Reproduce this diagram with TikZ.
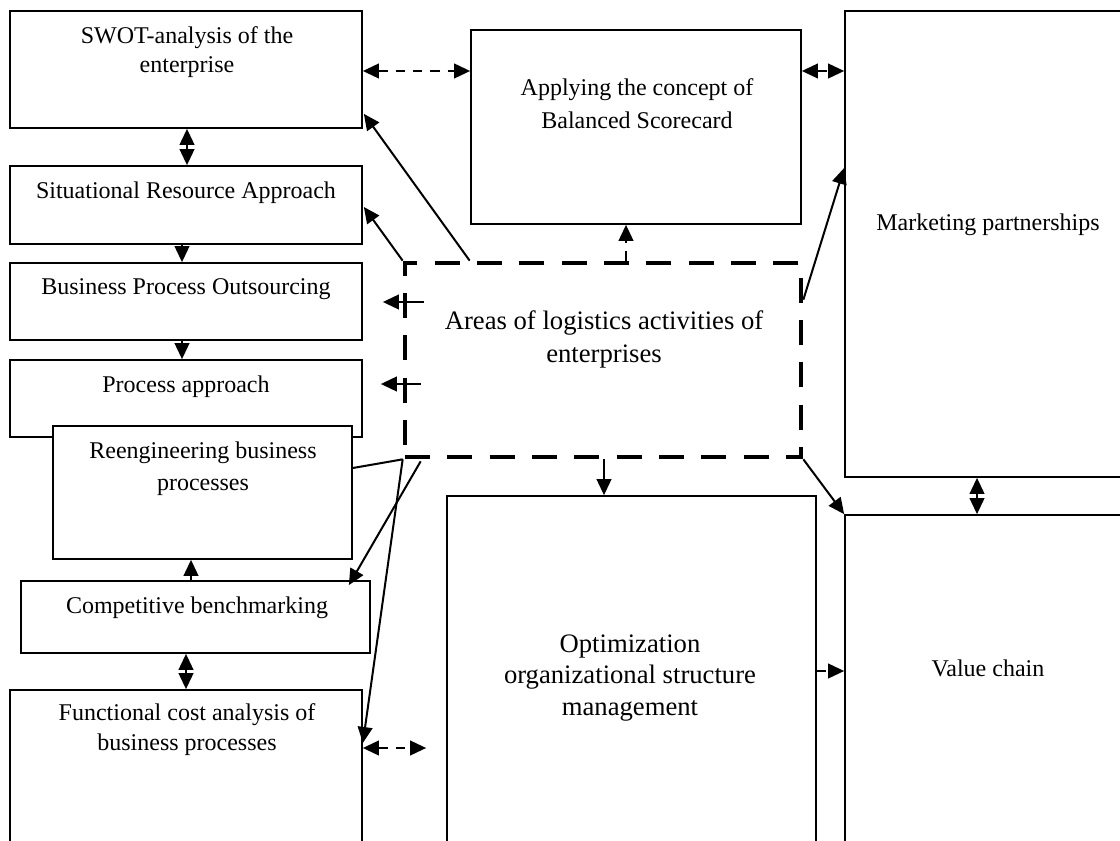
\documentclass[tikz,border=0pt]{standalone}
\usepackage{fontspec}
\setmainfont{Liberation Serif}
\usetikzlibrary{arrows.meta,fit,calc}
\begin{document}
\begin{tikzpicture}[x=0.75pt,y=-0.75pt,
  box/.style={draw, line width=1.3pt, fill=white, inner sep=0pt},
  txt/.style={align=center, inner sep=0pt, font=\fontsize{18}{22}\selectfont},
  bigtxt/.style={align=center, inner sep=0pt, font=\fontsize{20}{24}\selectfont},
  arr/.style={line width=1.5pt, -{Triangle[length=12pt,width=11pt]}},
  darr/.style={line width=1.5pt, {Triangle[length=12pt,width=11pt]}-{Triangle[length=12pt,width=11pt]}},
  plain/.style={line width=1.5pt},
  dsh/.style={dash pattern=on 7pt off 6pt},
  areabox/.style={draw, line width=3.5pt, dash pattern=on 18.75pt off 13pt, inner sep=0pt}
]
\useasboundingbox (0,0) rectangle (1120,841);
\clip (0,0) rectangle (1120,841);

% boxes
\node[box, fit={(10,11) (362,128)}] (swot) {};
\node[box, fit={(10,166) (362,244)}] (sit) {};
\node[box, fit={(10,263) (362,340)}] (bpo) {};
\node[box, fit={(10,360) (362,437)}] (proc) {};
\node[box, fit={(53,426) (352,559)}] (reeng) {};
\node[box, fit={(21,581) (370,653)}] (comp) {};
\node[box, fit={(10,690) (362,860)}] (func) {};
\node[box, fit={(471,30) (801,224)}] (bsc) {};
\node[box, fit={(845,11) (1130,477)}] (mark) {};
\node[box, fit={(845,515) (1130,860)}] (value) {};
\node[box, fit={(447,496) (816,860)}] (opt) {};
\node[areabox, fit={(405,263) (801,457)}] (areas) {};

% texts
\node[txt] (tswot) at (187,52) {SWOT-analysis of the\\enterprise};
\node[txt] (tsit) at (186,193) {Situational Resource Approach};
\node[txt] (tbpo) at (186,289) {Business Process Outsourcing};
\node[txt] (tproc) at (186,387) {Process approach};
\node[txt, font=\fontsize{18}{24}\selectfont] (treeng) at (203,469) {Reengineering business\\processes};
\node[txt] (tcomp) at (197,608) {Competitive benchmarking};
\node[txt] (tfunc) at (187,729.5) {Functional cost analysis of\\business processes};
\node[txt, font=\fontsize{18}{25}\selectfont] (tbsc) at (637,104) {Applying the concept of\\Balanced Scorecard};
\node[bigtxt, font=\fontsize{20}{24.75}\selectfont] (tareas) at (604,339.5) {Areas of logistics activities of\\enterprises};
\node[bigtxt, font=\fontsize{20}{23.6}\selectfont] (topt) at (630,678) {Optimization\\organizational structure\\management};
\node[txt] (tmark) at (988,225) {Marketing partnerships};
\node[txt] (tvalue) at (988,668) {Value chain};

% left column connectors
\draw[darr] ($(swot.south)+(1,0)$) -- ($(sit.north)+(1,0)$);
\draw[arr] ($(sit.south)+(-4,0)$) -- ($(bpo.north)+(-4,0)$);
\draw[arr] ($(bpo.south)+(-4,0)$) -- ($(proc.north)+(-4,0)$);
\draw[arr] ($(comp.north)+(-4.5,0)$) -- ($(reeng.south)+(-11.5,0)$);
\draw[darr] ($(comp.south)+(-9.5,0)$) -- (func.north);

% top connectors
\draw[darr, dsh] ($(swot.east)+(0,1.5)$) -- ($(bsc.west)+(0,-56)$);
\draw[darr, dsh] ($(bsc.east)+(0,-56)$) -- ($(mark.west)+(0,-173)$);
\draw[darr] ($(mark.south)+(-10.5,0)$) -- ($(value.north)+(-10.5,0)$);

% from the central area
\draw[arr] ($(areas.north west)+(67,0)$) -- ($(swot.south east)+(1,-15)$);
\draw[arr] (areas.north west) -- ($(sit.east)+(1,2)$);
\draw[arr] ($(areas.west)+(21,-58)$) -- ($(bpo.east)+(20,0.5)$);
\draw[arr] ($(areas.west)+(18,24)$) -- ($(proc.east)+(18,-14.5)$);
\draw[arr, dsh] ($(areas.north)+(23,0)$) -- ($(bsc.south)+(-10,0)$);
\draw[arr] ($(areas.north east)+(0,39)$) -- ($(mark.west)+(0,-76)$);
\draw[arr] (areas.south east) -- (value.north west);
\draw[arr] ($(areas.south)+(1,0)$) -- ($(opt.north)+(-27.5,0)$);
\draw[plain] ($(reeng.east)+(0,-24.5)$) -- (areas.south west);
\draw[arr] (areas.south west) -- ($(func.east)+(0,-32)$);
\draw[arr] ($(areas.south west)+(18,2)$) -- ($(comp.north east)+(-22,5)$);

% bottom dashed
\draw[darr, dsh] ($(func.east)+(0,-27)$) -- ($(opt.west)+(-20,70)$);
\draw[arr, dsh] ($(opt.east)+(0,-7)$) -- ($(value.west)+(0,-16.5)$);
\end{tikzpicture}
\end{document}
